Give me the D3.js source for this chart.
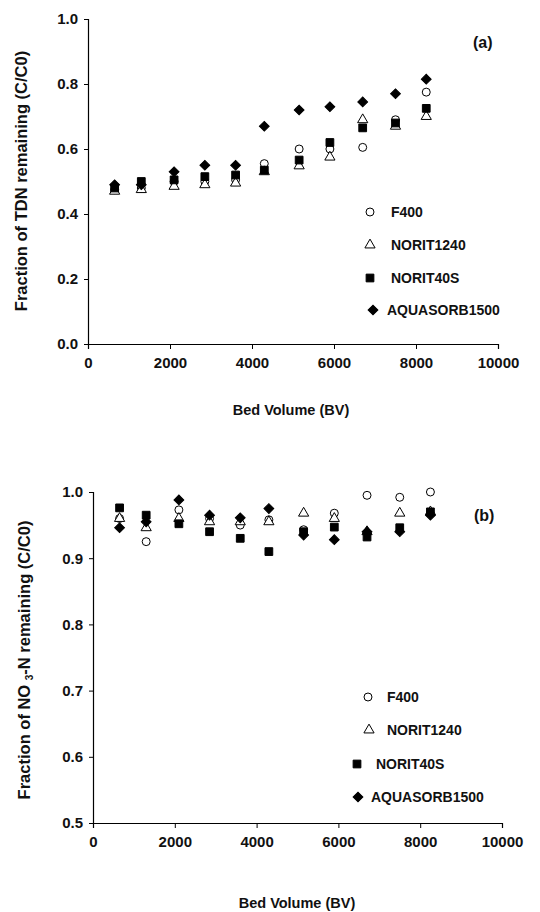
<!DOCTYPE html>
<html>
<head>
<meta charset="utf-8">
<script src="https://cdnjs.cloudflare.com/ajax/libs/d3/7.8.5/d3.min.js"></script>
<style>
  body { margin: 0; background: #fff; }
  text { font-family: "Liberation Sans", Arial, sans-serif; font-weight: bold; fill: #111; }
</style>
</head>
<body>
<div id="chart"></div>
<script>
// Data
var bedVolume = [650, 1300, 2100, 2850, 3600, 4300, 5150, 5900, 6700, 7500, 8250];
var seriesNames = ['F400', 'NORIT1240', 'NORIT40S', 'AQUASORB1500'];

// (a) TDN
var tdnF400      = [0.475, 0.48, 0.50, 0.50, 0.505, 0.555, 0.60, 0.60, 0.605, 0.69, 0.775];
var tdnNorit1240 = [0.47, 0.475, 0.485, 0.49, 0.495, 0.53, 0.548, 0.575, 0.69, 0.67, 0.70];
var tdnNorit40S  = [0.48, 0.50, 0.505, 0.515, 0.52, 0.535, 0.566, 0.62, 0.665, 0.68, 0.725];
var tdnAquasorb  = [0.49, 0.49, 0.53, 0.55, 0.55, 0.67, 0.72, 0.73, 0.745, 0.77, 0.815];

// (b) NO3-N
var no3F400      = [0.96, 0.925, 0.973, 0.96, 0.95, 0.958, 0.943, 0.968, 0.995, 0.992, 1.0];
var no3Norit1240 = [0.96, 0.946, 0.96, 0.955, 0.955, 0.955, 0.968, 0.96, 0.94, 0.968, 0.97];
var no3Norit40S  = [0.976, 0.965, 0.952, 0.94, 0.93, 0.91, 0.94, 0.947, 0.932, 0.946, 0.97];
var no3Aquasorb  = [0.946, 0.955, 0.988, 0.965, 0.961, 0.975, 0.935, 0.928, 0.94, 0.94, 0.965];

var xTicks = [0, 2000, 4000, 6000, 8000, 10000];

var width = 540, height = 912;
var svg = d3.select('#chart').append('svg')
    .attr('width', width)
    .attr('height', height);

// diamond = square turned 45 degrees (d3's own diamond is too tall)
var symbolTypes = [d3.symbolCircle, d3.symbolTriangle, d3.symbolSquare, d3.symbolSquare];
var symbolSizes = [50, 45, 60, 48];
var symbolRotate = [0, 0, 0, 45];
var symbolFill = ['#fff', '#fff', '#000', '#000'];

function symbolPath(i) {
  return d3.symbol().type(symbolTypes[i]).size(symbolSizes[i])();
}

function drawPanel(opt) {
  var x = d3.scaleLinear().domain([0, 10000]).range(opt.xRange);
  var y = d3.scaleLinear().domain(opt.yDomain).range(opt.yRange);
  var g = svg.append('g');

  // x axis
  var xAxis = g.append('g')
      .attr('transform', 'translate(0,' + opt.yRange[0] + ')')
      .call(d3.axisBottom(x).tickValues(xTicks).tickSize(5).tickFormat(d3.format('d')));
  xAxis.selectAll('text').attr('dy', null).attr('y', 24).style('font-size', '15px');

  // y axis
  var yAxis = g.append('g')
      .attr('transform', 'translate(' + opt.xRange[0] + ',0)')
      .call(d3.axisLeft(y).tickValues(opt.yTicks).tickSize(4).tickFormat(d3.format('.1f')));
  yAxis.selectAll('text').attr('x', -10).style('font-size', '15px');

  g.selectAll('.domain').attr('stroke', '#000').attr('stroke-width', 1.2);
  g.selectAll('.tick line').attr('stroke', '#000');

  // markers
  opt.series.forEach(function(vals, i) {
    g.append('g').selectAll('path')
        .data(vals)
        .enter().append('path')
        .attr('d', symbolPath(i))
        .attr('transform', function(d, j) {
          return 'translate(' + x(bedVolume[j]) + ',' + y(d) + ')rotate(' + symbolRotate[i] + ')';
        })
        .attr('fill', symbolFill[i])
        .attr('stroke', '#000')
        .attr('stroke-width', 1);
  });

  // legend
  seriesNames.forEach(function(name, i) {
    var ly = opt.legendY[i];
    g.append('path')
        .attr('d', symbolPath(i))
        .attr('transform', 'translate(' + opt.legendMarkX[i] + ',' + ly + ')rotate(' + symbolRotate[i] + ')')
        .attr('fill', symbolFill[i])
        .attr('stroke', '#000');
    g.append('text')
        .attr('x', opt.legendTextX[i])
        .attr('y', ly + 5)
        .style('font-size', '14px')
        .text(name);
  });

  // panel label
  g.append('text')
      .attr('x', opt.tag[0]).attr('y', opt.tag[1])
      .style('font-size', '16px')
      .text(opt.tagText);

  // x title
  g.append('text')
      .attr('x', opt.xTitle[0]).attr('y', opt.xTitle[1])
      .attr('text-anchor', 'middle')
      .style('font-size', '14.5px')
      .text('Bed Volume (BV)');

  // y title
  var yt = g.append('text')
      .attr('transform', 'translate(' + opt.yTitle[0] + ',' + opt.yTitle[1] + ')rotate(-90)')
      .attr('text-anchor', 'middle')
      .style('font-size', '16.5px');
  opt.yTitleParts.forEach(function(p) {
    var t = yt.append('tspan').text(p.text);
    if (p.sub) t.style('font-size', '10px').attr('dy', 3);
    if (p.up) t.attr('dy', -3);
  });
}

drawPanel({
  xRange: [88, 498],
  yDomain: [0, 1],
  yRange: [344, 19],
  yTicks: [0, 0.2, 0.4, 0.6, 0.8, 1.0],
  series: [tdnF400, tdnNorit1240, tdnNorit40S, tdnAquasorb],
  legendY: [212, 245, 278, 310],
  legendMarkX: [370, 370, 370, 373],
  legendTextX: [391, 391, 391, 387],
  tag: [473, 48], tagText: '(a)',
  xTitle: [291, 415],
  yTitle: [27, 181],
  yTitleParts: [{text: 'Fraction of TDN remaining (C/C0)'}]
});

drawPanel({
  xRange: [93, 502],
  yDomain: [0.5, 1],
  yRange: [823, 492],
  yTicks: [0.5, 0.6, 0.7, 0.8, 0.9, 1.0],
  series: [no3F400, no3Norit1240, no3Norit40S, no3Aquasorb],
  legendY: [697, 730, 764, 797],
  legendMarkX: [368, 369, 357, 358],
  legendTextX: [387, 387, 376, 371],
  tag: [474, 521], tagText: '(b)',
  xTitle: [297, 908],
  yTitle: [30, 660],
  yTitleParts: [{text: 'Fraction of NO  '}, {text: '3', sub: true}, {text: '-N remaining (C/C0)', up: true}]
});
</script>
</body>
</html>
